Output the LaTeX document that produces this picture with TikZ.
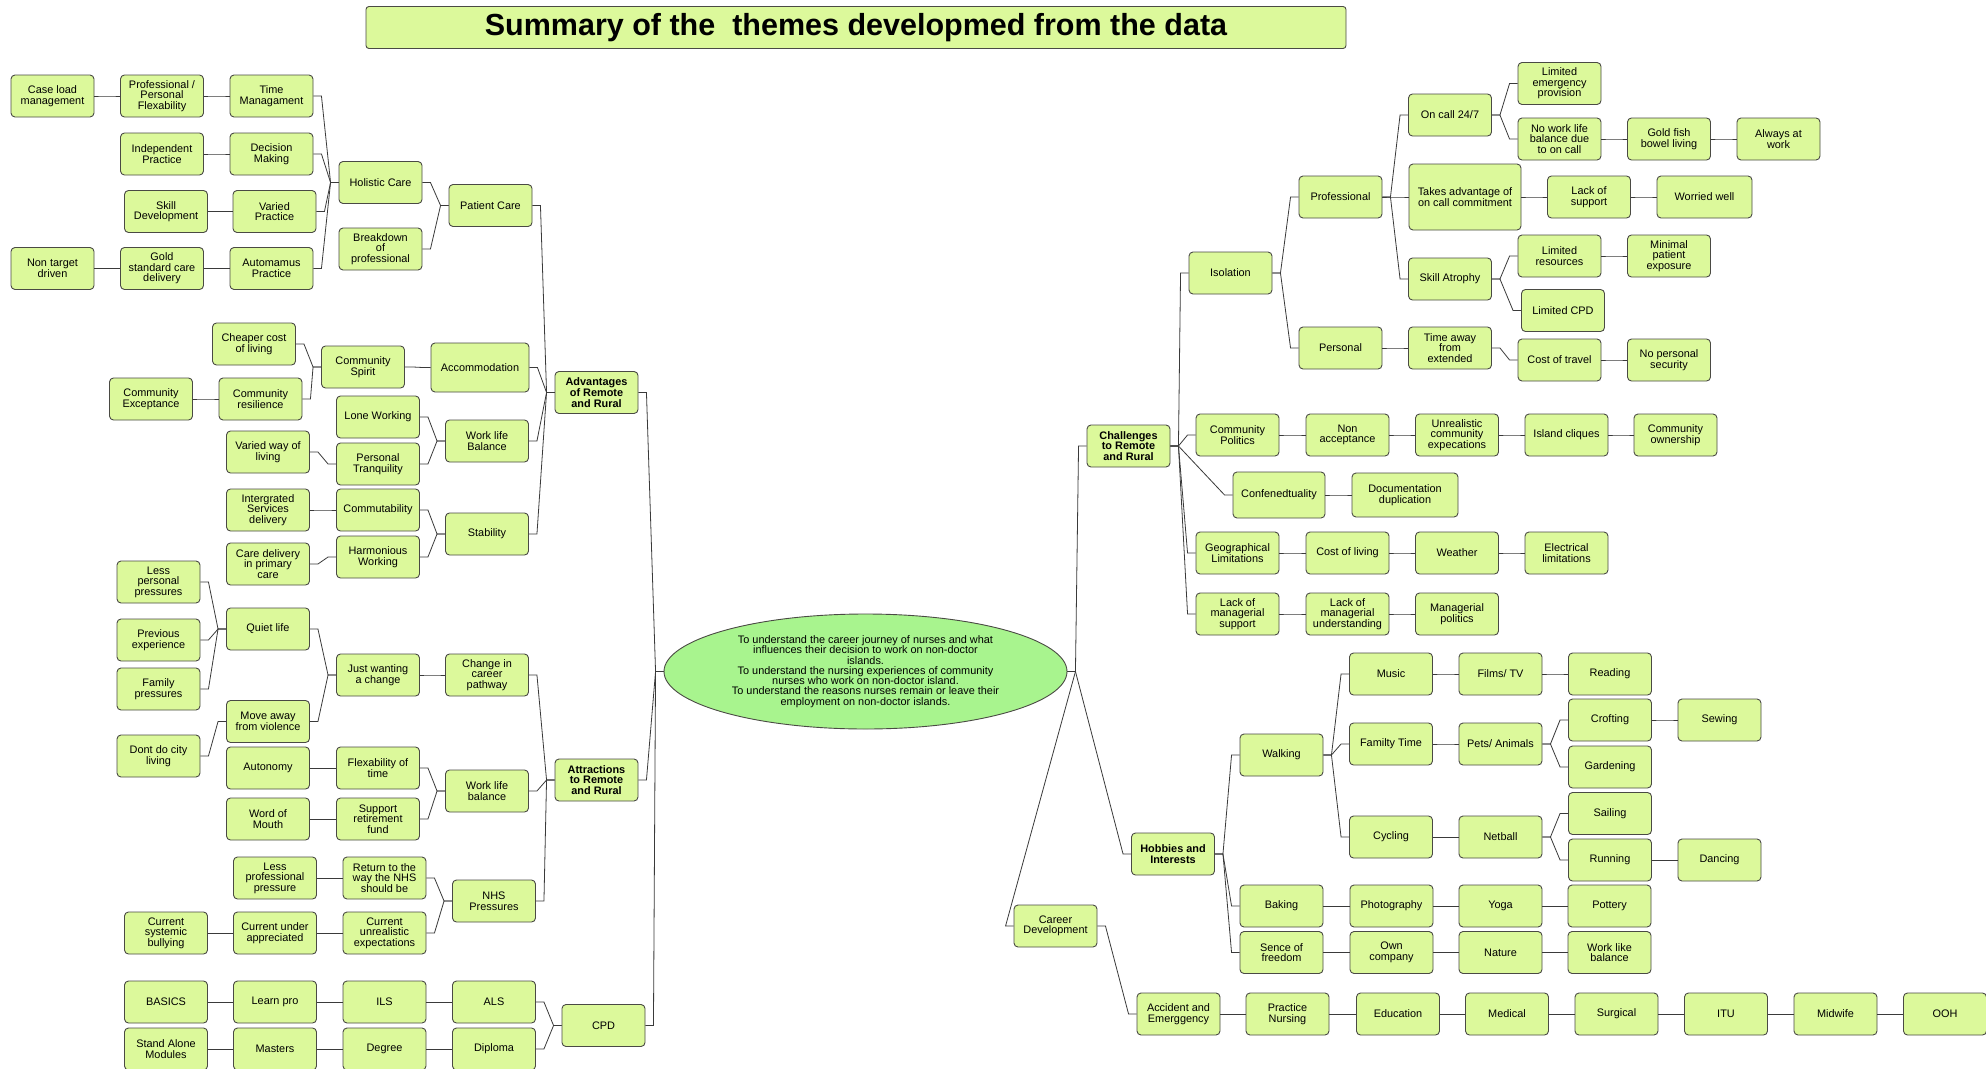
\documentclass[tikz,border=0pt]{standalone}
\usepackage{fontspec}
\setmainfont{Liberation Sans}
\usetikzlibrary{calc,shapes.geometric}

\definecolor{boxfill}{HTML}{DCF99B}
\definecolor{boxline}{HTML}{4A4A44}
\definecolor{aimfill}{HTML}{A8F48E}
\definecolor{wire}{HTML}{3A3A3A}

% elbow connector: right from the left box, slanted run, into the right box
\newcommand\joinbox[2]{\draw[conn] (#1.east) -- ++(8,0) -- ($(#2.west)+(-8,0)$) -- (#2.west);}

\tikzset{
  theme/.style={draw=boxline, fill=boxfill, rounded corners=4pt, line width=0.9pt,
    minimum width=83pt, minimum height=42pt, inner sep=1pt, align=center,
    font=\fontsize{10.9}{10.6}\selectfont},
  key/.style={theme, font=\fontsize{10.9}{10.6}\selectfont\bfseries},
  conn/.style={draw=wire, line width=0.8pt},
}

\begin{document}
\begin{tikzpicture}[x=1pt, y=-1pt]
\fill[white] (0,0) rectangle (1986,1068);
\useasboundingbox (0,0) rectangle (1986,1068);

% heading
\node[theme, minimum width=980pt, minimum height=42pt, rounded corners=3pt,
  font=\fontsize{30.5}{31}\selectfont\bfseries] (title) at (856,27.5)
  {Summary of the\ \ themes developmed from the data};

% central aims
\node[ellipse, draw=boxline, fill=aimfill, line width=0.9pt, minimum width=403pt,
  minimum height=115pt, inner sep=0pt, align=center,
  font=\fontsize{10.9}{10.3}\selectfont] (aim) at (865.5,671.5)
  {To understand the career journey of nurses and what\\
   influences their decision to work on non-doctor\\
   islands.\\
   To understand the nursing experiences of community\\
   nurses who work on non-doctor island.\\
   To understand the reasons nurses remain or leave their\\
   employment on non-doctor islands.};

% ---------------- advantages ----------------
\node[theme] (cl)  at (52.5,96)   {Case load\\management};
\node[theme] (ppf) at (162,96)    {Professional /\\Personal\\Flexability};
\node[theme] (tm)  at (271.5,96)  {Time\\Managament};
\node[theme] (ip)  at (162,154)   {Independent\\Practice};
\node[theme] (dm)  at (271.5,154) {Decision\\Making};
\node[theme] (sd)  at (166,211.5) {Skill\\Development};
\node[theme] (vp)  at (274.5,211.5) {Varied\\Practice};
\node[theme] (ntd) at (52.5,268.5) {Non target\\driven};
\node[theme] (gsc) at (162,268.5) {Gold\\standard care\\delivery};
\node[theme] (ap)  at (271.5,268.5) {Automamus\\Practice};
\node[theme] (hc)  at (380.5,182.5) {Holistic Care};
\node[theme] (bp)  at (380.5,249) {Breakdown\\of\\professional};
\node[theme] (pc)  at (490.5,205.5) {Patient Care};

\node[theme] (ccl) at (254,344)   {Cheaper cost\\of living};
\node[theme] (cs)  at (363,367)   {Community\\Spirit};
\node[theme, minimum width=98pt, minimum height=49pt] (acc) at (480,367.5) {Accommodation};
\node[theme] (ce)  at (151,399)   {Community\\Exceptance};
\node[theme] (cr)  at (260.5,399) {Community\\resilience};
\node[key]   (adv) at (596.5,392.5) {Advantages\\of Remote\\and Rural};
\node[theme] (lw)  at (378,417)   {Lone Working};
\node[theme] (wlb) at (487,441)   {Work life\\Balance};
\node[theme] (vwl) at (268,452)   {Varied way of\\living};
\node[theme] (ptq) at (378,464)   {Personal\\Tranquility};
\node[theme] (isd) at (268,510)   {Intergrated\\Services\\delivery};
\node[theme] (com) at (378,510)   {Commutability};
\node[theme] (stab) at (487,534)  {Stability};
\node[theme] (cdp) at (268,564)   {Care delivery\\in primary\\care};
\node[theme] (hw)  at (378,557)   {Harmonious\\Working};

% ---------------- attractions ----------------
\node[theme] (lpp) at (158.5,582) {Less\\personal\\pressures};
\node[theme] (ql)  at (268,629)   {Quiet life};
\node[theme] (pe)  at (158.5,640) {Previous\\experience};
\node[theme] (jwc) at (378,675)   {Just wanting\\a change};
\node[theme] (ccp) at (487,675)   {Change in\\career\\pathway};
\node[theme] (fp)  at (158.5,689) {Family\\pressures};
\node[theme] (mav) at (268,721.5) {Move away\\from violence};
\node[theme] (dcl) at (158.5,756) {Dont do city\\living};
\node[theme] (aut) at (268,768)   {Autonomy};
\node[theme] (fot) at (378,768)   {Flexability of\\time};
\node[key]   (att) at (596.5,780) {Attractions\\to Remote\\and Rural};
\node[theme] (wlb2) at (487,791)  {Work life\\balance};
\node[theme] (wom) at (268,819)   {Word of\\Mouth};
\node[theme] (srf) at (378,819)   {Support\\retirement\\fund};
\node[theme] (lprp) at (275,878)  {Less\\professional\\pressure};
\node[theme] (rnhs) at (384.5,878) {Return to the\\way the NHS\\should be};
\node[theme] (nhs) at (494,901)   {NHS\\Pressures};
\node[theme] (csb) at (166,933)   {Current\\systemic\\bullying};
\node[theme] (cua) at (275,933)   {Current under\\appreciated};
\node[theme] (cue) at (384.5,933) {Current\\unrealistic\\expectations};

% ---------------- CPD ----------------
\node[theme] (bas) at (166,1002)  {BASICS};
\node[theme] (lp)  at (275,1002)  {Learn pro};
\node[theme] (ils) at (384.5,1002) {ILS};
\node[theme] (als) at (494,1002)  {ALS};
\node[theme] (cpd) at (603.5,1025.5) {CPD};
\node[theme] (sam) at (166,1049)  {Stand Alone\\Modules};
\node[theme] (mas) at (275,1049)  {Masters};
\node[theme] (deg) at (384.5,1049) {Degree};
\node[theme] (dip) at (494,1049)  {Diploma};

% ---------------- challenges ----------------
\node[key]   (chal) at (1128.5,446) {Challenges\\to Remote\\and Rural};
\node[theme] (iso)  at (1230.5,273) {Isolation};
\node[theme] (prof) at (1340.5,197) {Professional};
\node[theme] (oncall) at (1450,115) {On call 24/7};
\node[theme] (lep)  at (1559.5,83.5) {Limited\\emergency\\provision};
\node[theme] (nwl)  at (1559.5,139) {No work life\\balance due\\to on call};
\node[theme] (gfb)  at (1669,139)   {Gold fish\\bowel living};
\node[theme] (aaw)  at (1778.5,139) {Always at\\work};
\node[theme, minimum width=112pt, minimum height=66pt] (tak) at (1465,197) {Takes advantage of\\on call commitment};
\node[theme] (los)  at (1589,197)   {Lack of\\support};
\node[theme, minimum width=95pt] (ww) at (1704.5,197) {Worried well};
\node[theme] (sa)   at (1450,279)   {Skill Atrophy};
\node[theme] (lr)   at (1559.5,256) {Limited\\resources};
\node[theme] (mpe)  at (1669,256)   {Minimal\\patient\\exposure};
\node[theme] (lcpd) at (1563,310.5) {Limited CPD};
\node[theme] (pers) at (1340.5,348) {Personal};
\node[theme] (tae)  at (1450,348)   {Time away\\from\\extended};
\node[theme] (cot)  at (1559.5,360) {Cost of travel};
\node[theme] (nps)  at (1669,360)   {No personal\\security};
\node[theme] (cp)   at (1237.5,435) {Community\\Politics};
\node[theme] (na)   at (1347.5,435) {Non\\acceptance};
\node[theme] (uce)  at (1457,435)   {Unrealistic\\community\\expecations};
\node[theme] (ic)   at (1566.5,435) {Island cliques};
\node[theme] (co)   at (1675.5,435) {Community\\ownership};
\node[theme, minimum width=92pt, minimum height=46pt] (conf) at (1279,495) {Confenedtuality};
\node[theme, minimum width=106pt, minimum height=44pt] (dd) at (1405,495) {Documentation\\duplication};
\node[theme] (gl)   at (1237.5,553) {Geographical\\Limitations};
\node[theme] (col)  at (1347.5,553) {Cost of living};
\node[theme] (wea)  at (1457,553)   {Weather};
\node[theme] (el)   at (1566.5,553) {Electrical\\limitations};
\node[theme] (lms)  at (1237.5,614) {Lack of\\managerial\\support};
\node[theme] (lmu)  at (1347.5,614) {Lack of\\managerial\\understanding};
\node[theme] (mp)   at (1457,614)   {Managerial\\politics};

% ---------------- hobbies ----------------
\node[key]   (hob)  at (1173,854)   {Hobbies and\\Interests};
\node[theme] (walk) at (1281.5,755) {Walking};
\node[theme] (mus)  at (1391,674)   {Music};
\node[theme] (ftv)  at (1500.5,674) {Films/ TV};
\node[theme] (read) at (1610,674)   {Reading};
\node[theme] (ft)   at (1391,744)   {Familty Time};
\node[theme] (pets) at (1500.5,744) {Pets/ Animals};
\node[theme] (crof) at (1610,720)   {Crofting};
\node[theme] (sew)  at (1719.5,720) {Sewing};
\node[theme] (gard) at (1610,767)   {Gardening};
\node[theme] (cyc)  at (1391,837)   {Cycling};
\node[theme] (net)  at (1500.5,837) {Netball};
\node[theme] (sail) at (1610,813.5) {Sailing};
\node[theme] (run)  at (1610,860)   {Running};
\node[theme] (dance) at (1719.5,860) {Dancing};
\node[theme] (bak)  at (1281.5,906) {Baking};
\node[theme] (photo) at (1391.5,906) {Photography};
\node[theme] (yoga) at (1500.5,906) {Yoga};
\node[theme] (pot)  at (1609.5,906) {Pottery};
\node[theme] (sof)  at (1281.5,952.5) {Sence of\\freedom};
\node[theme] (oc)   at (1391.5,952.5) {Own\\company};
\node[theme] (nat)  at (1500.5,952.5) {Nature};
\node[theme] (wlk)  at (1609.5,952.5) {Work like\\balance};

% ---------------- career ----------------
\node[theme] (cd)   at (1055.5,926) {Career\\Development};
\node[theme] (ae)   at (1178.5,1014) {Accident and\\Emerggency};
\node[theme] (pn)   at (1287.5,1014) {Practice\\Nursing};
\node[theme] (edu)  at (1398,1014)  {Education};
\node[theme] (med)  at (1507,1014)  {Medical};
\node[theme] (surg) at (1616.5,1014) {Surgical};
\node[theme] (itu)  at (1726,1014)  {ITU};
\node[theme] (mid)  at (1835.5,1014) {Midwife};
\node[theme] (ooh)  at (1945,1014)  {OOH};

% connectors, always drawn from the left box to the right box
\foreach \a/\b in {
  cl/ppf, ppf/tm, ip/dm, sd/vp, ntd/gsc, gsc/ap,
  tm/hc, dm/hc, vp/hc, ap/hc, hc/pc, bp/pc,
  ccl/cs, cr/cs, ce/cr, cs/acc, lw/wlb, ptq/wlb, vwl/ptq,
  isd/com, com/stab, hw/stab, cdp/hw,
  pc/adv, acc/adv, wlb/adv, stab/adv,
  lpp/ql, pe/ql, fp/ql, dcl/mav, ql/jwc, mav/jwc, jwc/ccp,
  aut/fot, wom/srf, fot/wlb2, srf/wlb2,
  lprp/rnhs, csb/cua, cua/cue, rnhs/nhs, cue/nhs,
  ccp/att, wlb2/att, nhs/att,
  bas/lp, lp/ils, ils/als, sam/mas, mas/deg, deg/dip, als/cpd, dip/cpd,
  adv/aim, att/aim, cpd/aim,
  aim/chal, aim/hob, aim/cd,
  chal/iso, chal/cp, chal/conf, chal/gl, chal/lms,
  iso/prof, iso/pers, prof/oncall, prof/tak, prof/sa,
  oncall/lep, oncall/nwl, nwl/gfb, gfb/aaw, tak/los, los/ww,
  sa/lr, sa/lcpd, lr/mpe, pers/tae, tae/cot, cot/nps,
  cp/na, na/uce, uce/ic, ic/co, conf/dd,
  gl/col, col/wea, wea/el, lms/lmu, lmu/mp,
  hob/walk, hob/bak, hob/sof, walk/mus, walk/ft, walk/cyc,
  mus/ftv, ftv/read, ft/pets, pets/crof, pets/gard, crof/sew,
  cyc/net, net/sail, net/run, run/dance,
  bak/photo, photo/yoga, yoga/pot, sof/oc, oc/nat, nat/wlk,
  cd/ae, ae/pn, pn/edu, edu/med, med/surg, surg/itu, itu/mid, mid/ooh}
  {\joinbox{\a}{\b}}

\end{tikzpicture}
\end{document}
